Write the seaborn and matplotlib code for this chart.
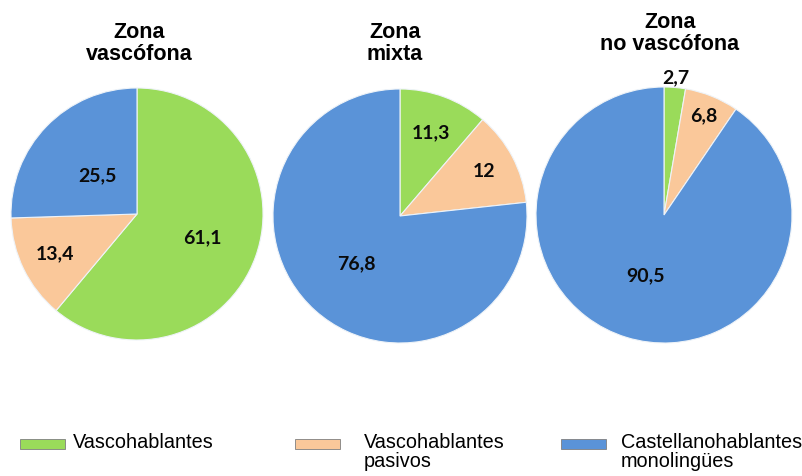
import numpy as np
import matplotlib
matplotlib.use("Agg")
import matplotlib.pyplot as plt
import seaborn as sns
from matplotlib.patches import Rectangle

sns.set_theme(style="white")
plt.rcParams['font.family'] = ['Liberation Sans', 'DejaVu Sans']

# ---- data ----
zonas = ["Zona\nvascófona", "Zona\nmixta", "Zona\nno vascófona"]
categorias = ["Vascohablantes", "Vascohablantes\npasivos", "Castellanohablantes\nmonolingües"]
vascohablantes = [61.1, 11.3, 2.7]
pasivos = [13.4, 12.0, 6.8]
castellano = [25.5, 76.8, 90.5]
etiquetas = [["61,1", "13,4", "25,5"], ["11,3", "12", "76,8"], ["2,7", "6,8", "90,5"]]

# ---- style ----
colors = ["#9ADB5A", "#FAC89A", "#5A93D8"]
label_dist = [[0.55, 0.72, 0.44], [0.70, 0.75, 0.51], [1.08, 0.84, 0.50]]
centers = [(137, 214, 126), (400, 216, 127), (664, 215, 128)]
title_x = [139, 395, 670]
title_top = [22, 22, 12]

W, H = 803, 476
fig = plt.figure(figsize=(W / 100, H / 100), dpi=100)

for i in range(3):
    cx, cy, r = centers[i]
    ax = fig.add_axes([(cx - r) / W, (H - cy - r) / H, 2 * r / W, 2 * r / H])
    vals = [vascohablantes[i], pasivos[i], castellano[i]]
    wedges, _ = ax.pie(vals, colors=colors, startangle=90, counterclock=False,
                       radius=1, wedgeprops=dict(edgecolor="#EEF3F8", linewidth=0.8))
    ax.set_xlim(-1, 1)
    ax.set_ylim(-1, 1)
    ax.set_aspect("equal")
    ax.axis("off")
    for j, w in enumerate(wedges):
        ang = np.deg2rad((w.theta1 + w.theta2) / 2)
        d = label_dist[i][j]
        ax.text(d * np.cos(ang), d * np.sin(ang), etiquetas[i][j],
                ha="center", va="center", fontsize=14, fontweight="bold",
                family=["Lato", "DejaVu Sans"], color="#0A0A0A", clip_on=False)
    fig.text(title_x[i] / W, 1 - title_top[i] / H, zonas[i], ha="center", va="top",
             fontsize=15.5, fontweight="bold", linespacing=1.08, color="#000000")

# ---- legend ----
patch_x = [20, 295, 561]
text_x = [73, 364, 621]
for k in range(3):
    fig.patches.append(Rectangle((patch_x[k] / W, 1 - 449 / H), 45 / W, 10 / H,
                                 transform=fig.transFigure, facecolor=colors[k],
                                 edgecolor="#7F7F7F", linewidth=0.6))
    fig.text(text_x[k] / W, 1 - 433 / H, categorias[k], ha="left", va="top",
             fontsize=14.3, linespacing=0.98, color="#000000")

fig.savefig("out.png", dpi=100, facecolor="white")
